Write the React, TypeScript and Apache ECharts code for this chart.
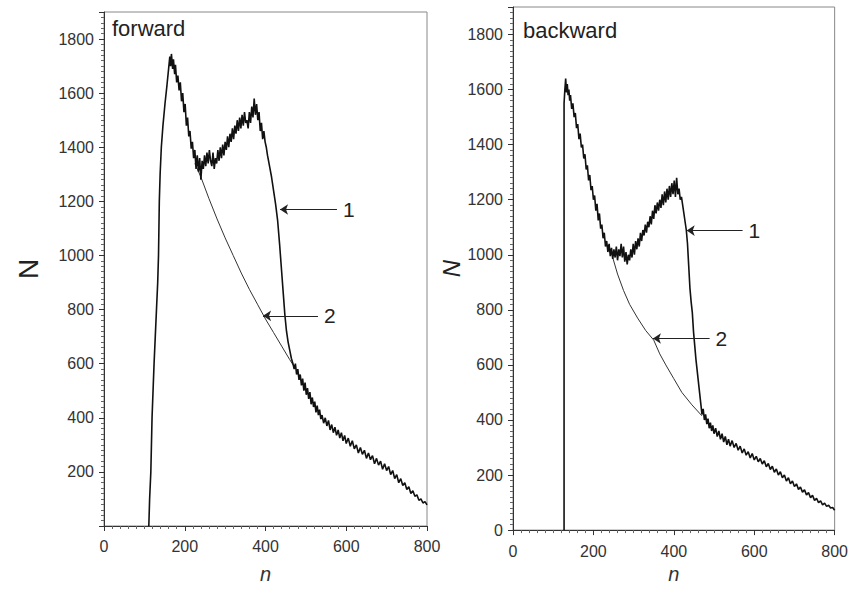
import React, { useEffect, useRef } from "react";
import * as echarts from "echarts";

// ---------- data ----------
const xTicks = [0, 200, 400, 600, 800];
const yTicks = [0, 200, 400, 600, 800, 1000, 1200, 1400, 1600, 1800];

// forward, spectrum 1 (measured) [n, N]
const forwardSpectrum1: number[][] = [
  [111, 0], [113, 100], [116, 200], [119, 400], [122, 520], [124, 600], [127, 700], [130, 800], [133, 900],
  [135, 1000], [136, 1100], [137, 1200], [139, 1300], [142, 1400], [146, 1480], [151, 1560], [156, 1630],
  [160, 1690], [163, 1735], [165, 1700], [167, 1745],
  [170, 1690], [172, 1725], [175, 1670], [177, 1705], [180, 1640], [183, 1665], [186, 1610], [189, 1640],
  [192, 1570], [195, 1600], [198, 1530], [201, 1560], [204, 1480], [207, 1510], [210, 1440], [213, 1460],
  [216, 1395], [219, 1420], [222, 1360], [225, 1390], [228, 1320], [231, 1370], [234, 1310], [237, 1360],
  [240, 1280], [243, 1350], [246, 1320], [249, 1370], [252, 1330], [255, 1380], [258, 1340], [261, 1390],
  [264, 1350], [267, 1330], [270, 1380], [273, 1320], [276, 1360], [279, 1340], [282, 1390], [285, 1350],
  [288, 1400], [291, 1360], [294, 1410], [297, 1370], [300, 1420], [303, 1390], [306, 1440], [309, 1400],
  [312, 1450], [315, 1420], [318, 1470], [321, 1430], [324, 1480], [327, 1450], [330, 1500], [333, 1460],
  [336, 1510], [339, 1470], [342, 1520], [345, 1480], [348, 1530], [351, 1490], [354, 1500], [357, 1470],
  [360, 1530], [363, 1490], [366, 1550], [369, 1510], [372, 1580], [375, 1520], [378, 1560], [381, 1500],
  [384, 1530], [387, 1460], [390, 1490], [393, 1430], [396, 1460], [399, 1420], [402, 1400], [405, 1370],
  [410, 1330], [415, 1290], [420, 1240], [425, 1190], [430, 1130], [435, 1040], [440, 940], [444, 860],
  [448, 780], [452, 720], [456, 680], [460, 650], [464, 620], [468, 600], [471, 580], [474, 600], [477, 560],
  [480, 580], [483, 540], [486, 560], [489, 520], [492, 545], [495, 500], [498, 530], [501, 485], [504, 510],
  [507, 470], [510, 495], [513, 450], [516, 475], [519, 440], [522, 460], [525, 420], [528, 445], [531, 410],
  [534, 430], [537, 395], [540, 410], [544, 380], [548, 400], [552, 370], [556, 390], [560, 355], [564, 375],
  [568, 345], [572, 365], [576, 335], [580, 355], [584, 325], [588, 345], [592, 315], [596, 335], [600, 305],
  [605, 325], [610, 295], [615, 315], [620, 285], [625, 300], [630, 270], [635, 290], [640, 265], [645, 280],
  [650, 250], [655, 270], [660, 245], [665, 260], [670, 230], [675, 250], [680, 225], [685, 240], [690, 210],
  [695, 230], [700, 205], [705, 220], [710, 190], [715, 205], [720, 175], [725, 190], [730, 160], [735, 175],
  [740, 150], [745, 160], [750, 135], [755, 145], [760, 120], [765, 130], [770, 110], [775, 115], [780, 95],
  [785, 100], [790, 85], [795, 90], [800, 78],
];

// forward, curve 2 (background) [n, N]
const forwardCurve2: number[][] = [
  [225, 1340], [240, 1290], [260, 1210], [280, 1135], [300, 1065], [320, 1000], [340, 935], [360, 875],
  [380, 820], [400, 765], [420, 715], [440, 665], [460, 615], [475, 580],
];

// backward, spectrum 1 (measured) [n, N]
const backwardSpectrum1: number[][] = [
  [127, 0], [127, 1550], [129, 1600], [131, 1640], [133, 1590], [135, 1620], [137, 1580], [139, 1600],
  [141, 1560], [143, 1580], [146, 1530], [149, 1550], [152, 1500], [155, 1515], [158, 1460], [161, 1475],
  [164, 1420], [167, 1440], [170, 1390], [173, 1400], [176, 1350], [179, 1365], [182, 1310], [185, 1325],
  [188, 1270], [191, 1290], [194, 1235], [197, 1250], [200, 1200], [203, 1215], [206, 1160], [209, 1185],
  [212, 1125], [215, 1150], [218, 1095], [221, 1110], [224, 1060], [227, 1080], [230, 1030], [233, 1050],
  [236, 1010], [239, 1040], [242, 995], [245, 1025], [248, 985], [251, 1020], [254, 990], [257, 1030],
  [260, 980], [263, 1020], [266, 995], [269, 1040], [272, 990], [275, 1030], [278, 975], [281, 1010],
  [284, 965], [287, 1000], [290, 980], [293, 1020], [296, 990], [299, 1040], [302, 1000], [305, 1050],
  [308, 1020], [311, 1060], [314, 1030], [317, 1080], [320, 1050], [323, 1090], [326, 1070], [329, 1110],
  [332, 1080], [335, 1120], [338, 1100], [341, 1140], [344, 1110], [347, 1160], [350, 1130], [353, 1180],
  [356, 1150], [359, 1190], [362, 1160], [365, 1200], [368, 1170], [371, 1220], [374, 1180], [377, 1230],
  [380, 1190], [383, 1240], [386, 1200], [389, 1250], [392, 1210], [395, 1260], [398, 1220], [401, 1270],
  [404, 1210], [407, 1280], [410, 1220], [413, 1240], [416, 1200], [419, 1210], [422, 1180], [425, 1150],
  [428, 1120], [431, 1090], [434, 1040], [437, 960], [440, 880], [443, 830], [446, 790], [449, 720],
  [452, 670], [455, 620], [458, 580], [461, 540], [464, 500], [467, 460], [470, 420], [473, 440], [476, 400],
  [479, 420], [482, 385], [485, 405], [488, 370], [491, 390], [494, 360], [497, 380], [500, 350], [504, 370],
  [508, 340], [512, 360], [516, 330], [520, 350], [524, 320], [528, 340], [532, 310], [536, 330], [540, 305],
  [545, 325], [550, 300], [555, 315], [560, 290], [565, 305], [570, 280], [575, 295], [580, 272], [585, 285],
  [590, 262], [595, 278], [600, 255], [605, 268], [610, 248], [615, 260], [620, 240], [625, 252], [630, 230],
  [635, 242], [640, 220], [645, 232], [650, 210], [655, 222], [660, 200], [665, 212], [670, 190], [675, 200],
  [680, 178], [685, 190], [690, 168], [695, 178], [700, 158], [705, 168], [710, 148], [715, 156], [720, 138],
  [725, 146], [730, 128], [735, 136], [740, 118], [745, 126], [750, 108], [755, 115], [760, 100], [765, 106],
  [770, 92], [775, 98], [780, 86], [785, 90], [790, 80], [795, 82], [800, 72],
];

// backward, curve 2 (background) [n, N]
const backwardCurve2: number[][] = [
  [248, 990], [260, 930], [275, 870], [290, 820], [310, 770], [330, 725], [350, 690], [365, 640],
  [380, 600], [400, 550], [420, 500], [445, 455], [470, 415],
];

// annotation arrows: [label, fromN, toN, atN]
const forwardArrows: (string | number)[][] = [
  ["1", 577, 436, 1170],
  ["2", 530, 394, 777],
];
const backwardArrows: (string | number)[][] = [
  ["1", 571, 432, 1088],
  ["2", 489, 348, 696],
];

const panelTitles = ["forward", "backward"];

// ---------- component ----------
const FONT = "Liberation Sans, Arial, sans-serif";

function makeXAxis(gridIndex: number, nameGap: number, labelMargin: number) {
  return {
    gridIndex,
    type: "value",
    min: xTicks[0],
    max: xTicks[xTicks.length - 1],
    interval: xTicks[1] - xTicks[0],
    name: "n",
    nameLocation: "middle",
    nameGap,
    nameTextStyle: { fontStyle: "italic", fontSize: 20, color: "#333", fontFamily: FONT },
    axisLine: { show: true, onZero: false, lineStyle: { color: "#333", width: 1 } },
    axisTick: { show: true, length: 5, lineStyle: { color: "#333" } },
    minorTick: { show: true, splitNumber: 10, length: 3, lineStyle: { color: "#666" } },
    axisLabel: { color: "#333", fontSize: 16, margin: labelMargin, fontFamily: FONT },
    splitLine: { show: false },
  };
}

function makeYAxis(gridIndex: number, nameGap: number, italic: boolean, showZero: boolean, nameSize: number) {
  const top = yTicks[yTicks.length - 1];
  return {
    gridIndex,
    type: "value",
    min: 0,
    max: 1900,
    interval: yTicks[1] - yTicks[0],
    name: "N",
    nameLocation: "middle",
    nameGap,
    nameRotate: 90,
    nameTextStyle: {
      fontStyle: italic ? "italic" : "normal",
      fontSize: nameSize,
      color: "#222",
      fontFamily: FONT,
    },
    axisLine: { show: true, onZero: false, lineStyle: { color: "#333", width: 1 } },
    axisTick: { show: true, length: 5, lineStyle: { color: "#333" } },
    minorTick: { show: true, splitNumber: 10, length: 3, lineStyle: { color: "#666" } },
    axisLabel: {
      color: "#333",
      fontSize: 16,
      margin: 10,
      fontFamily: FONT,
      formatter: (v: number) => (v > top || (!showZero && v === 0) ? "" : String(v)),
    },
    splitLine: { show: false },
  };
}

function arrowMarkLine(arrows: (string | number)[][]) {
  return {
    silent: true,
    symbol: ["none", "arrow"],
    symbolSize: 8,
    lineStyle: { color: "#222", width: 1, type: "solid" },
    emphasis: { disabled: true },
    data: arrows.map((a) => [
      {
        coord: [a[1], a[3]],
        label: {
          show: true,
          position: "start",
          formatter: String(a[0]),
          fontSize: 21,
          color: "#222",
          fontFamily: FONT,
          distance: 6,
        },
      },
      { coord: [a[2], a[3]] },
    ]),
  };
}

export default function App() {
  const ref = useRef<HTMLDivElement>(null);

  useEffect(() => {
    if (!ref.current) return;
    const chart = echarts.init(ref.current, null, { renderer: "svg" });
    const option: any = {
      animation: false,
      backgroundColor: "#ffffff",
      grid: [
        { left: 104, top: 12, width: 323, height: 523, show: true, borderColor: "#888", borderWidth: 1, backgroundColor: "transparent" },
        { left: 513, top: 7, width: 322, height: 524, show: true, borderColor: "#888", borderWidth: 1, backgroundColor: "transparent" },
      ],
      xAxis: [makeXAxis(0, 38, 12), makeXAxis(1, 30, 13)],
      yAxis: [makeYAxis(0, 62, false, false, 28), makeYAxis(1, 50, true, true, 24)],
      graphic: [
        { type: "text", left: 112, top: 17, style: { text: panelTitles[0], fontSize: 22, fill: "#222", fontFamily: FONT } },
        { type: "text", left: 523, top: 19, style: { text: panelTitles[1], fontSize: 22, fill: "#222", fontFamily: FONT } },
      ],
      series: [
        {
          type: "line",
          xAxisIndex: 0,
          yAxisIndex: 0,
          data: forwardCurve2,
          showSymbol: false,
          lineStyle: { color: "#333", width: 1 },
          markLine: arrowMarkLine(forwardArrows),
        },
        {
          type: "line",
          xAxisIndex: 0,
          yAxisIndex: 0,
          data: forwardSpectrum1,
          showSymbol: false,
          lineStyle: { color: "#111", width: 1.6 },
        },
        {
          type: "line",
          xAxisIndex: 1,
          yAxisIndex: 1,
          data: backwardCurve2,
          showSymbol: false,
          lineStyle: { color: "#333", width: 1 },
          markLine: arrowMarkLine(backwardArrows),
        },
        {
          type: "line",
          xAxisIndex: 1,
          yAxisIndex: 1,
          data: backwardSpectrum1,
          showSymbol: false,
          lineStyle: { color: "#111", width: 1.6 },
        },
      ],
    };
    chart.setOption(option);
    return () => chart.dispose();
  }, []);

  return (
    <div
      ref={ref}
      style={{ position: "fixed", left: 0, top: 0, width: 851, height: 589, background: "#fff" }}
    />
  );
}
